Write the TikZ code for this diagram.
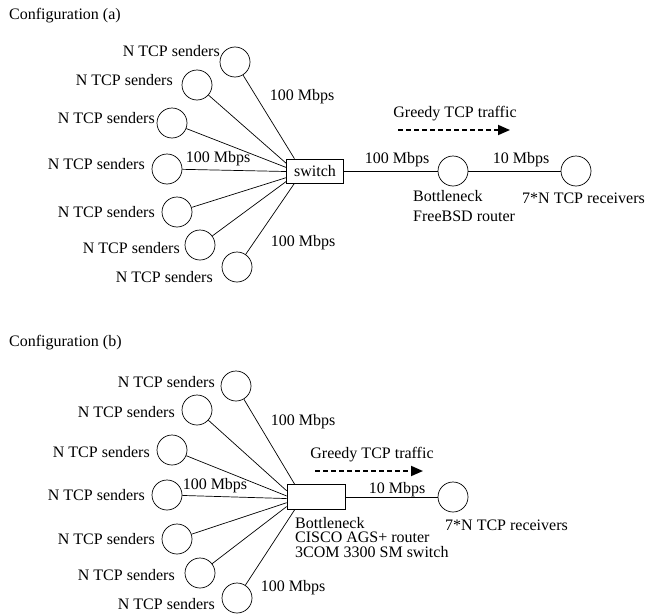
\documentclass[tikz,border=0pt]{standalone}
\usepackage{fontspec}
\setmainfont{Liberation Serif}
\usetikzlibrary{arrows.meta, positioning}

\begin{document}
\begin{tikzpicture}[x=1pt, y=-1pt, font=\fontsize{16}{19}\selectfont,
      host/.style={draw, circle, minimum size=30pt, inner sep=0pt, line width=0.7pt},
      snd/.style={anchor=east, inner sep=0pt},
      txt/.style={inner sep=0pt},
      box/.style={draw, minimum width=57pt, minimum height=24pt, inner sep=0pt, line width=0.7pt},
      link/.style={line width=0.7pt},
      flow/.style={dash pattern=on 5pt off 3pt, line width=1.8pt,
                   -{Triangle[length=12pt, width=10pt]}}]
    \useasboundingbox (0,0) rectangle (645,613);
    % Configuration (a)
    \node[txt, anchor=west] (ta) at (9,16) {Configuration (a)};
    \node[box] (sa) at (315,171) {switch};
    \node[host] (a1) at (235,62)  {};
    \node[host] (a2) at (197,85)  {};
    \node[host] (a3) at (172,123) {};
    \node[host] (a4) at (167,169) {};
    \node[host] (a5) at (177,212) {};
    \node[host] (a6) at (200,245) {};
    \node[host] (a7) at (237,267) {};
    \node[snd] (la1) at (220,51)  {N TCP senders};
    \node[snd] (la2) at (173,80)  {N TCP senders};
    \node[snd] (la3) at (155,118) {N TCP senders};
    \node[snd] (la4) at (145,164) {N TCP senders};
    \node[snd] (la5) at (155,212) {N TCP senders};
    \node[snd] (la6) at (180,248) {N TCP senders};
    \node[snd] (la7) at (213,277) {N TCP senders};
    \draw[link] (a1) -- (sa.149);
    \draw[link] (a2) -- (sa.165);
    \draw[link] (a3) -- (sa.173);
    \draw[link] (a4) -- (sa.181);
    \draw[link] (a5) -- (sa.193);
    \draw[link] (a6) -- (sa.200);
    \draw[link] (a7) -- (sa.211);
    \node[txt] (ra1) at (302,97)  {100 Mbps};
    \node[txt] (ra2) at (218,159) {100 Mbps};
    \node[txt] (ra3) at (303,243) {100 Mbps};
    \node[host] (fb) at (453,171) {};
    \node[host] (rxa) at (576,171) {};
    \draw[link] (sa) -- (fb);
    \draw[link] (fb) -- (rxa);
    \node[txt] (ra4) at (397,160) {100 Mbps};
    \node[txt] (ra5) at (521,160) {10 Mbps};
    \node[txt, anchor=north west, align=left, font=\fontsize{16}{20}\selectfont]
      (bna) at (413,190) {Bottleneck\\FreeBSD router};
    \node[txt, anchor=west] (rva) at (522,198) {7*N TCP receivers};
    \node[txt] (ga) at (455,114) {Greedy TCP traffic};
    \coordinate (ga1) at (398,130);
    \coordinate (ga2) at (510,130);
    \draw[flow] (ga1) -- (ga2);
    % Configuration (b)
    \node[txt, anchor=west] (tb) at (9,343) {Configuration (b)};
    \node[box, minimum width=58pt, minimum height=25pt] (sb) at (316,497) {};
    \node[host] (b1) at (236,386) {};
    \node[host] (b2) at (197,410) {};
    \node[host] (b3) at (172,450) {};
    \node[host] (b4) at (167,495) {};
    \node[host] (b5) at (177,539) {};
    \node[host] (b6) at (200,573) {};
    \node[host] (b7) at (237,598) {};
    \node[snd] (lb1) at (215,382) {N TCP senders};
    \node[snd] (lb2) at (175,412) {N TCP senders};
    \node[snd] (lb3) at (150,452) {N TCP senders};
    \node[snd] (lb4) at (145,495) {N TCP senders};
    \node[snd] (lb5) at (155,539) {N TCP senders};
    \node[snd] (lb6) at (175,575) {N TCP senders};
    \node[snd] (lb7) at (215,604) {N TCP senders};
    \draw[link] (b1) -- (sb.149);
    \draw[link] (b2) -- (sb.168);
    \draw[link] (b3) -- (sb.178);
    \draw[link] (b4) -- (sb.183);
    \draw[link] (b5) -- (sb.191);
    \draw[link] (b6) -- (sb.198);
    \draw[link] (b7) -- (sb.211);
    \node[txt] (rb1) at (303,422) {100 Mbps};
    \node[txt] (rb2) at (215,486) {100 Mbps};
    \node[txt] (rb3) at (293,588) {100 Mbps};
    \node[host] (rxb) at (453,497) {};
    \draw[link] (sb) -- (rxb);
    \node[txt] (rb4) at (397,490) {10 Mbps};
    \node[txt, anchor=north west, align=left, font=\fontsize{16}{14.5}\selectfont]
      (bnb) at (295,517) {Bottleneck\\CISCO AGS+ router\\3COM 3300 SM switch};
    \node[txt, anchor=west] (rvb) at (445,525) {7*N TCP receivers};
    \node[txt] (gb) at (372,455) {Greedy TCP traffic};
    \coordinate (gb1) at (315,471);
    \coordinate (gb2) at (423,471);
    \draw[flow] (gb1) -- (gb2);
\end{tikzpicture}
\end{document}
